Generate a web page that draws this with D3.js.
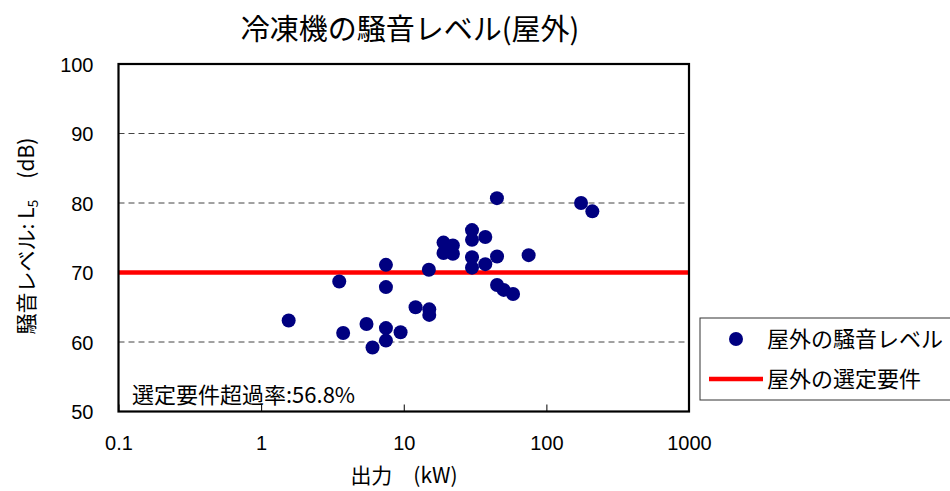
<!DOCTYPE html>
<html>
<head>
<meta charset="utf-8">
<script src="https://cdn.jsdelivr.net/npm/d3@7"></script>
<style>
  body { margin: 0; background: #fff; }
  text { font-family: "Liberation Sans", Arial, "Noto Sans CJK JP", sans-serif; fill: #000; }
  .jp { font-family: "Noto Sans CJK JP", "Liberation Sans", sans-serif; }
</style>
</head>
<body>
<div id="chart"></div>
<script>
// output kW / noise level dB
const outputKW = [1.56, 3.53, 3.76, 5.48, 6.04, 7.5, 7.5, 7.5, 7.5, 9.5,
    12.1, 15.1, 15.1, 15.0, 19.0, 22.1, 19.0, 22.1, 30.1, 30.1,
    37.3, 30.1, 30.1, 37.3, 45.1, 75.1, 45.0, 45.1, 50.2, 58.4,
    175, 210];
const noiseDB = [63.1, 68.7, 61.3, 62.6, 59.2, 71.1, 67.9, 62.0, 60.2, 61.4,
    65.0, 64.7, 63.9, 70.4, 74.3, 73.9, 72.8, 72.7, 76.1, 74.7,
    75.1, 72.2, 70.7, 71.2, 72.3, 72.5, 80.7, 68.2, 67.5, 66.9,
    80.0, 78.8];
const requirement = 70;
const xTicks = [0.1, 1, 10, 100, 1000];
const yTicks = [50, 60, 70, 80, 90, 100];
const exceedText = "選定要件超過率:56.8%";

const width = 950, height = 491;
const plotL = 118.5, plotR = 689, plotT = 64, plotB = 411.5;

const svg = d3.select("#chart").append("svg")
    .attr("width", width)
    .attr("height", height);

const x = d3.scaleLog().domain([0.1, 1000]).range([plotL, plotR]);
const y = d3.scaleLinear().domain([50, 100]).range([plotB, plotT]);

// dashed grid
svg.append("g")
    .selectAll("line")
    .data(yTicks.filter(d => d > 50 && d < 100))
    .enter().append("line")
    .attr("x1", plotL).attr("x2", plotR)
    .attr("y1", d => y(d)).attr("y2", d => y(d))
    .attr("stroke", "#444")
    .attr("stroke-width", 1)
    .attr("stroke-dasharray", "6,4");

// x axis ticks (inside) and labels
const xAxis = svg.append("g")
    .attr("transform", `translate(0,${plotB})`)
    .call(d3.axisBottom(x).tickValues(xTicks).tickSize(-7).tickPadding(24)
        .tickFormat(d => String(d)));
xAxis.select(".domain").remove();
xAxis.selectAll("line").attr("stroke", "#000");
xAxis.selectAll("text").style("font-size", "20px");

// y axis labels
const yAxis = svg.append("g")
    .attr("transform", `translate(${plotL},0)`)
    .call(d3.axisLeft(y).tickValues(yTicks).tickSize(0).tickPadding(25));
yAxis.select(".domain").remove();
yAxis.selectAll("text").style("font-size", "20px").attr("dy", "0.35em");

// requirement line
svg.append("line")
    .attr("x1", plotL).attr("x2", plotR)
    .attr("y1", y(requirement)).attr("y2", y(requirement))
    .attr("stroke", "#ff0000")
    .attr("stroke-width", 4.5);

// points
svg.append("g")
    .selectAll("circle")
    .data(outputKW.map((d, i) => [d, noiseDB[i]]))
    .enter().append("circle")
    .attr("cx", d => x(d[0]))
    .attr("cy", d => y(d[1]))
    .attr("r", 7)
    .attr("fill", "#000080");

// plot border
svg.append("rect")
    .attr("x", plotL).attr("y", plotT)
    .attr("width", plotR - plotL).attr("height", plotB - plotT)
    .attr("fill", "none")
    .attr("stroke", "#000")
    .attr("stroke-width", 2.2);

svg.append("text")
    .attr("class", "jp")
    .attr("x", 132).attr("y", 403)
    .style("font-size", "22px")
    .text(exceedText);

// title
svg.append("text")
    .attr("class", "jp")
    .attr("x", 410).attr("y", 40)
    .attr("text-anchor", "middle")
    .style("font-size", "29px")
    .text("冷凍機の騒音レベル(屋外)");

// axis titles
svg.append("text")
    .attr("class", "jp")
    .attr("x", 404).attr("y", 483)
    .attr("text-anchor", "middle")
    .style("font-size", "21px")
    .text("出力\u3000(kW)");

const yTitle = svg.append("text")
    .attr("class", "jp")
    .attr("transform", "translate(34,236) rotate(-90)")
    .attr("text-anchor", "middle")
    .style("font-size", "21px");
yTitle.append("tspan").text("騒音レベル: L");
yTitle.append("tspan").attr("dy", 4).style("font-size", "14px").text("5");
yTitle.append("tspan").attr("dy", -4).text("\u3000(dB)");

// legend
const legend = svg.append("g").attr("transform", "translate(700,318)");
legend.append("rect")
    .attr("width", 262).attr("height", 82)
    .attr("fill", "#fff")
    .attr("stroke", "#333")
    .attr("stroke-width", 1);
legend.append("circle")
    .attr("cx", 36).attr("cy", 21).attr("r", 7)
    .attr("fill", "#000080");
legend.append("text")
    .attr("class", "jp")
    .attr("x", 67).attr("y", 29)
    .style("font-size", "22px")
    .text("屋外の騒音レベル");
legend.append("line")
    .attr("x1", 9).attr("x2", 63)
    .attr("y1", 61).attr("y2", 61)
    .attr("stroke", "#ff0000")
    .attr("stroke-width", 4.5);
legend.append("text")
    .attr("class", "jp")
    .attr("x", 67).attr("y", 69)
    .style("font-size", "22px")
    .text("屋外の選定要件");
</script>
</body>
</html>
